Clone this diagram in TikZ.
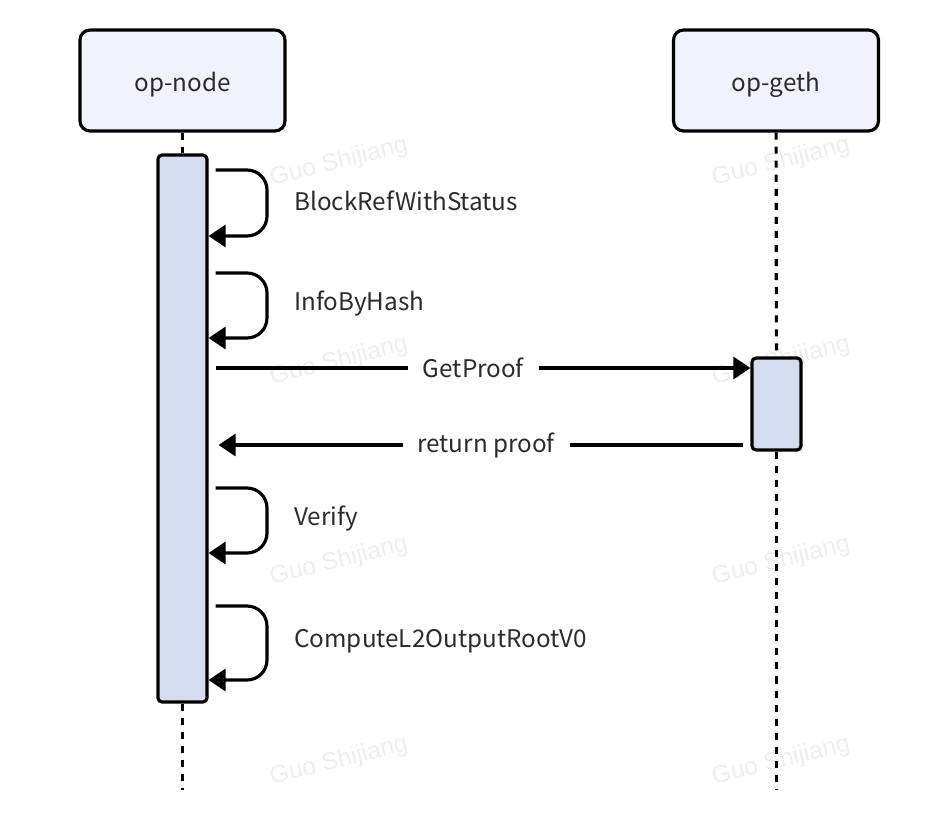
\documentclass[tikz,border=0pt]{standalone}
\usepackage{fontspec}
\setmainfont{Noto Sans CJK SC}
\newfontfamily\markfont{Liberation Sans}
\usetikzlibrary{arrows.meta}

\definecolor{boxfill}{HTML}{F0F3FB}
\definecolor{actfill}{HTML}{D6DCF0}
\definecolor{txtgray}{HTML}{2B2B2B}
\definecolor{markgray}{HTML}{EEEEEE}

\begin{document}
\begin{tikzpicture}[x=0.02cm, y=-0.02cm,
  actor/.style={draw, line width=1.8pt, rounded corners=0.2cm, fill=boxfill,
    minimum width=4.1cm, minimum height=2.02cm, text=txtgray,
    text height=0.52cm, text depth=0.1cm, font=\fontsize{13.8}{16}\selectfont},
  actbar/.style={draw, line width=1.8pt, rounded corners=0.08cm, fill=actfill,
    minimum width=0.98cm, inner sep=0pt},
  lifeline/.style={line width=1.8pt, dash pattern=on 4pt off 4pt},
  msg/.style={line width=1.8pt, -{Triangle[length=0.34cm, width=0.44cm]}},
  selfloop/.style={msg, rounded corners=0.4cm},
  msglabel/.style={fill=white, text=txtgray, inner xsep=0.3cm, font=\fontsize{13.8}{16}\selectfont},
  looplabel/.style={anchor=west, text=txtgray, inner sep=0pt, font=\fontsize{13.8}{16}\selectfont},
  watermark/.style={text=markgray, rotate=14, font=\markfont\fontsize{14}{16}\selectfont}
]
  \useasboundingbox (0,0) rectangle (936,812);

  % Watermarks in the background
  \foreach \wy in {162,361,561,761}
    \foreach \wx in {339,781}
      \node[watermark] (mark-\wx-\wy) at (\wx,\wy) {Guo Shijiang};

  % Participants
  \node[actor] (opnode) at (182.5,80.5) {op-node};
  \node[actor] (opgeth) at (776,80.5) {op-geth};

  % Activation bars
  \node[actbar, minimum height=10.94cm] (nodebar) at (182.5,428.5) {};
  \node[actbar, minimum height=1.84cm] (gethbar) at (776.5,404) {};

  % Lifelines
  \coordinate (nodeend) at (182.5,790);
  \coordinate (gethend) at (776.5,790);
  \draw[lifeline] (opnode) -- (nodebar);
  \draw[lifeline] (nodebar) -- (nodeend);
  \draw[lifeline] (opgeth) -- (gethbar);
  \draw[lifeline] (gethbar) -- (gethend);

  % Self calls on op-node
  \foreach \ya/\yb/\txt in {170/236/BlockRefWithStatus, 273/338/InfoByHash,
                            488/553/Verify, 606/680/ComputeL2OutputRootV0} {
    \draw[selfloop] (nodebar.east |- 0,\ya) ++(7,0) -- (267,\ya) -- (267,\yb)
      -- (nodebar.east |- 0,\yb);
    \node[looplabel] (lbl-\txt) at (294,{(\ya+\yb)/2-2}) {\txt};
  }

  % Call to op-geth and its return
  \draw[msg] (nodebar.east |- 0,368) ++(7,0) -- (gethbar.west |- 0,368)
    node[msglabel, pos=0.482] (getproof) {GetProof};
  \draw[msg, shorten >=0.2cm] (gethbar.west |- 0,445) ++(-7,0) -- (nodebar.east |- 0,445)
    node[msglabel, pos=0.481] (retproof) {return proof};

\end{tikzpicture}
\end{document}
